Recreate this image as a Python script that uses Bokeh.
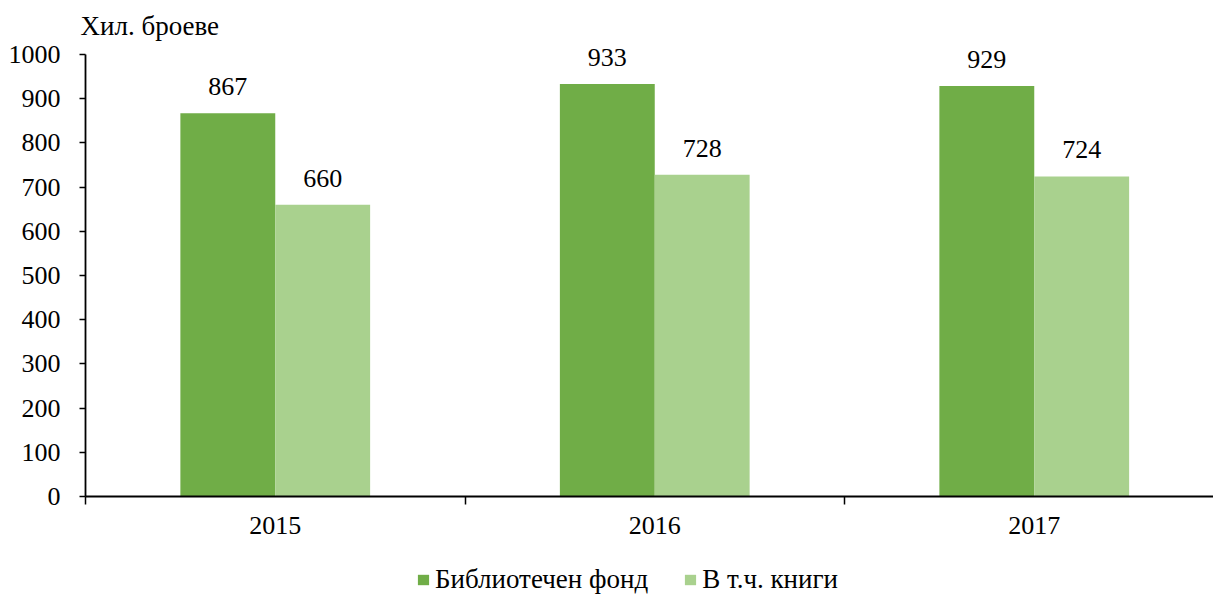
from bokeh.plotting import figure
from bokeh.layouts import column
from bokeh.models import (ColumnDataSource, Range1d, FixedTicker, LabelSet, Legend, LegendItem)
from bokeh.transform import dodge
from bokeh.embed import file_html
from bokeh.resources import INLINE

years = ["2015", "2016", "2017"]
fond = [867, 933, 929]
books = [660, 728, 724]
y_ticks = list(range(0, 1001, 100))
y_title = "Хил. броеве"
series_names = ["Библиотечен фонд", "В т.ч. книги"]

FONT = "'Liberation Serif', 'Times New Roman', serif"
FS = "26px"
FS_BIG = "27px"
DARK = "#70AD47"
LIGHT = "#A9D18E"

idx = [i + 0.5 for i in range(len(years))]
src = ColumnDataSource(dict(x=idx, fond=fond, books=books,
                            fond_t=[str(v) for v in fond], books_t=[str(v) for v in books]))

W, H = 1213, 561
LEG_H = 595 - H
LEFT, TOP, BOTTOM = 85, 48, H - 496
frame_h = H - TOP - BOTTOM
px_per_unit = (496 - 54) / 1000.0
y_end = frame_h / px_per_unit

p = figure(width=W, height=H, output_backend="svg", toolbar_location=None,
           x_range=Range1d(0, (W - LEFT) / 379.5), y_range=Range1d(0, y_end),
           min_border_left=LEFT, min_border_right=0, min_border_top=TOP, min_border_bottom=BOTTOM)

bw = 0.25
r1 = p.vbar(x=dodge("x", -bw / 2, range=p.x_range), top="fond", width=bw, source=src,
            fill_color=DARK, line_color=None)
r2 = p.vbar(x=dodge("x", bw / 2, range=p.x_range), top="books", width=bw, source=src,
            fill_color=LIGHT, line_color=None)

for col, off in (("fond", -bw / 2), ("books", bw / 2)):
    ls = LabelSet(x=dodge("x", off, range=p.x_range), y=col, text=col + "_t", source=src,
                  text_align="center", text_baseline="alphabetic", y_offset=18,
                  text_font=FONT, text_font_size=FS, text_color="black")
    p.add_layout(ls)

p.title.text = y_title
p.title.text_font = FONT
p.title.text_font_size = FS_BIG
p.title.text_font_style = "normal"
p.title.text_color = "black"
p.title.align = "left"
p.title.offset = -5
p.title.standoff = 15

# axes
p.xaxis.ticker = FixedTicker(ticks=idx, minor_ticks=list(range(len(years) + 1)))
p.xaxis.major_label_overrides = {x: y for x, y in zip(idx, years)}
p.xaxis.major_tick_line_color = None
p.xaxis.minor_tick_out = 8
p.xaxis.minor_tick_in = 0
p.xaxis.minor_tick_line_width = 1.5
p.xaxis.major_label_standoff = 12

p.yaxis.ticker = FixedTicker(ticks=y_ticks)
p.yaxis.bounds = (0, 1000)
p.yaxis.minor_tick_line_color = None
p.yaxis.major_tick_out = 6
p.yaxis.major_tick_in = 0
p.yaxis.major_tick_line_width = 1.5
p.yaxis.major_label_standoff = 19

for ax in (p.xaxis, p.yaxis):
    ax.axis_line_color = "black"
    ax.axis_line_width = 1.8
    ax.major_label_text_font = FONT
    ax.major_label_text_font_size = FS
    ax.major_label_text_color = "black"

p.xgrid.grid_line_color = None
p.ygrid.grid_line_color = None
p.outline_line_color = None

# legend strip (its frame is aligned with the main plot's frame by the column layout)
p2 = figure(width=W, height=LEG_H, output_backend="svg", toolbar_location=None,
            x_axis_location=None, y_axis_location=None,
            x_range=Range1d(0, 1), y_range=Range1d(0, 1), min_border=0)
p2.outline_line_color = None
p2.xgrid.grid_line_color = None
p2.ygrid.grid_line_color = None
d1 = p2.vbar(x=[5], top=[1], width=0.1, fill_color=DARK, line_color=None)
d2 = p2.vbar(x=[5], top=[1], width=0.1, fill_color=LIGHT, line_color=None)
legend = Legend(items=[LegendItem(label=series_names[0], renderers=[d1]),
                       LegendItem(label=series_names[1], renderers=[d2])],
                orientation="horizontal", location=(416 - LEFT, 0),
                label_text_font=FONT, label_text_font_size=FS_BIG, label_text_color="black",
                glyph_width=14, glyph_height=13, label_standoff=5, spacing=35,
                padding=0, margin=0, border_line_color=None, background_fill_alpha=0)
p2.add_layout(legend, "center")

layout = column(p, p2, spacing=0)
open("out.html", "w").write(file_html(layout, INLINE))
